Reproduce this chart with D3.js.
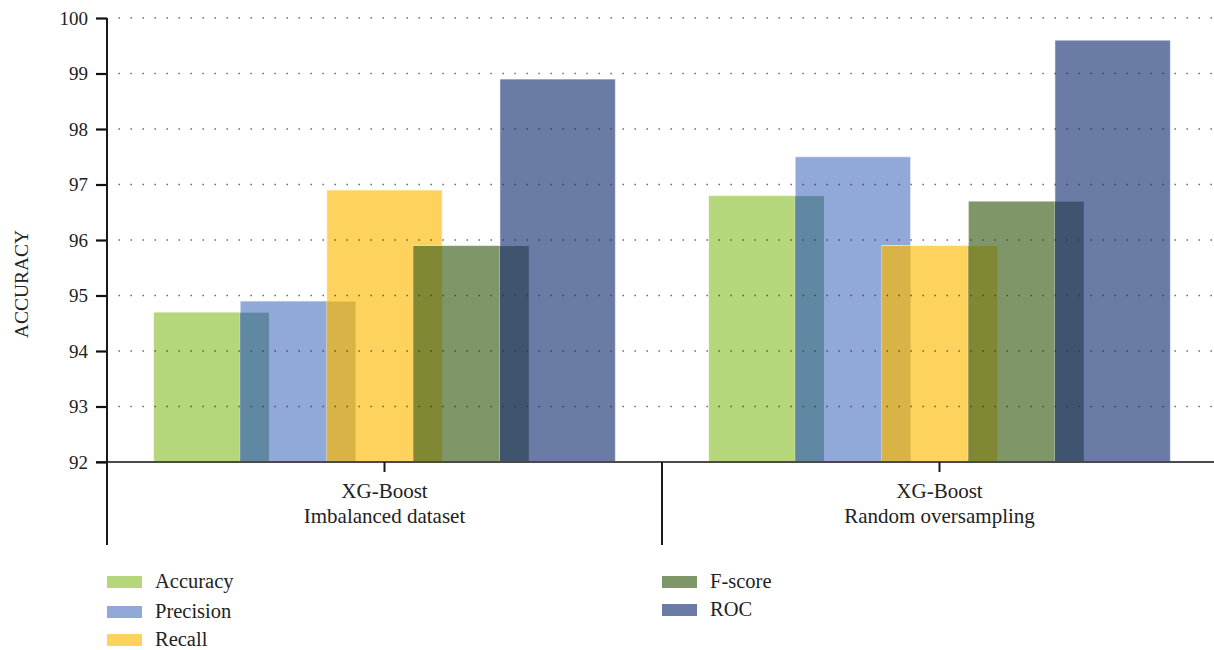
<!DOCTYPE html>
<html><head><meta charset="utf-8">
<script src="https://cdn.jsdelivr.net/npm/d3@7"></script>
<style>html,body{margin:0;padding:0;background:#fff;}svg{display:block;}</style>
</head><body>
<svg id="chart" width="1214" height="650"></svg>
<script>
const categoryLine1 = ["XG-Boost", "XG-Boost"];
const categoryLine2 = ["Imbalanced dataset", "Random oversampling"];
const seriesNames = ["Accuracy", "Precision", "Recall", "F-score", "ROC"];
const accuracy  = [94.7, 96.8];
const precision = [94.9, 97.5];
const recall    = [96.9, 95.9];
const fscore    = [95.9, 96.7];
const roc       = [98.9, 99.6];
const yTicks = [92, 93, 94, 95, 96, 97, 98, 99, 100];
const seriesColors = ["#b5d67a", "#91a9d9", "#fed35d", "#7f9669", "#6a7ba5"];
const overlapColors = ["#6188a3", "#d8b447", "#808834", "#3e546f"];

const seriesValues = [accuracy, precision, recall, fscore, roc];
const svg = d3.select("#chart");
const font = "'Liberation Serif', 'DejaVu Serif', serif";

const x0 = d3.scaleBand().domain(d3.range(categoryLine1.length)).range([107, 1217]).paddingInner(0).paddingOuter(0);
const y = d3.scaleLinear().domain([92, 100]).range([462, 18]);
const bw = x0.bandwidth();
const barW = bw * 0.208, step = bw * 0.156;
const startOff = (bw - (4 * step + barW)) / 2;
const xs = d3.scaleLinear().domain([0, 1]).range([startOff, startOff + step]);

// bars
const bars = [];
seriesValues.forEach((vals, si) => {
  vals.forEach((v, ci) => bars.push({si, ci, v, x: x0(ci) + xs(si)}));
});
svg.append("g").selectAll("rect").data(bars).join("rect")
  .attr("x", d => d.x).attr("width", barW)
  .attr("y", d => y(d.v)).attr("height", d => y(92) - y(d.v))
  .attr("fill", d => seriesColors[d.si])
  .attr("stroke", "rgba(255,255,255,0.55)").attr("stroke-width", 1);

// overlap regions between consecutive series
const overlaps = [];
for (let si = 0; si < seriesValues.length - 1; si++) {
  categoryLine1.forEach((c, ci) => {
    const v = Math.min(seriesValues[si][ci], seriesValues[si + 1][ci]);
    overlaps.push({si, v, x1: x0(ci) + xs(si + 1), x2: x0(ci) + xs(si) + barW});
  });
}
svg.append("g").selectAll("rect").data(overlaps).join("rect")
  .attr("x", d => d.x1).attr("width", d => d.x2 - d.x1)
  .attr("y", d => y(d.v) + 0.5).attr("height", d => y(92) - y(d.v) - 0.5)
  .attr("fill", d => overlapColors[d.si]);

// grid (dotted)
svg.append("g").selectAll("line").data(yTicks.filter(t => t > 92)).join("line")
  .attr("x1", 118.5).attr("x2", 1214)
  .attr("y1", d => y(d)).attr("y2", d => y(d))
  .attr("stroke", "#333").attr("stroke-width", 1.3).attr("stroke-dasharray", "1.3 10.7")
  .attr("opacity", 0.85);

// x axis line
svg.append("line").attr("x1", 96).attr("x2", 1214).attr("y1", y(92)).attr("y2", y(92))
  .attr("stroke", "#4a4a4a").attr("stroke-width", 2);

// y axis
const yAxis = d3.axisLeft(y).tickValues(yTicks).tickSize(11).tickPadding(8).tickFormat(d3.format("d"));
const gy = svg.append("g").attr("transform", "translate(107,0)").call(yAxis);
gy.select(".domain").remove();
gy.selectAll(".tick line").attr("stroke", "#111").attr("stroke-width", 2.2);
gy.selectAll(".tick text").attr("font-family", font).attr("font-size", 19).attr("fill", "#222");
svg.append("line").attr("x1", 107).attr("x2", 107).attr("y1", y(100)).attr("y2", 545)
  .attr("stroke", "#1a1a1a").attr("stroke-width", 2);

// category separators and center ticks
categoryLine1.forEach((c, ci) => {
  if (ci > 0) svg.append("line").attr("x1", x0(ci)).attr("x2", x0(ci)).attr("y1", y(92)).attr("y2", 545)
    .attr("stroke", "#1a1a1a").attr("stroke-width", 2);
  const cx = x0(ci) + bw / 2;
  svg.append("line").attr("x1", cx).attr("x2", cx).attr("y1", y(92)).attr("y2", 472)
    .attr("stroke", "#1a1a1a").attr("stroke-width", 2);
  svg.append("text").attr("x", cx).attr("y", 498).attr("text-anchor", "middle")
    .attr("font-family", font).attr("font-size", 21).attr("fill", "#222").text(c);
  svg.append("text").attr("x", cx).attr("y", 523).attr("text-anchor", "middle")
    .attr("font-family", font).attr("font-size", 21).attr("fill", "#222").text(categoryLine2[ci]);
});

// y label
svg.append("text").attr("transform", "translate(28,284) rotate(-90)").attr("text-anchor", "middle")
  .attr("font-family", font).attr("font-size", 19.5).attr("fill", "#222").text("ACCURACY");

// legend
const legendPos = [
  {x: 107, y: 576}, {x: 107, y: 606}, {x: 107, y: 634},
  {x: 662, y: 576}, {x: 662, y: 604}
];
const lg = svg.append("g").selectAll("g").data(seriesNames).join("g")
  .attr("transform", (d, i) => `translate(${legendPos[i].x},${legendPos[i].y})`);
lg.append("rect").attr("width", 35).attr("height", 12).attr("fill", (d, i) => seriesColors[i]);
lg.append("text").attr("x", 48).attr("y", 11.5).attr("font-family", font).attr("font-size", 20.5)
  .attr("fill", "#222").text(d => d);
</script>
</body></html>
